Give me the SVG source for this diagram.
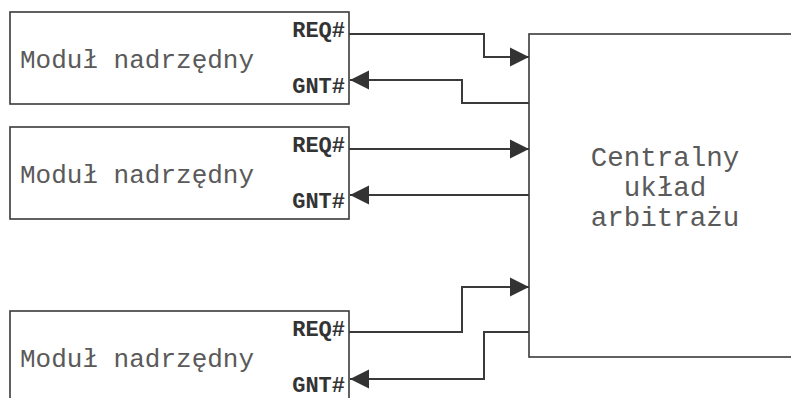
<svg xmlns="http://www.w3.org/2000/svg" width="791" height="398" viewBox="0 0 791 398">
<style>
.box{fill:#fff;stroke:#3a3a3a;stroke-width:1.6}
.lbl{font-family:"Liberation Mono","Courier New",monospace;font-size:26px;fill:#5a5a5a}
.big{font-size:27.5px;text-anchor:middle}
.pin{font-family:"Liberation Mono","Courier New",monospace;font-size:22px;font-weight:bold;fill:#333;text-anchor:end}
.wire{fill:none;stroke:#3a3a3a;stroke-width:2}
</style>
<defs>
<marker id="ah" markerUnits="userSpaceOnUse" markerWidth="20" markerHeight="20" viewBox="0 0 20 20" refX="19" refY="10" orient="auto">
<path d="M0,0.5 L19,10 L0,19.5 Z" fill="#333"/>
</marker>
</defs>
<g id="arbiter">
<rect class="box" x="529" y="34" width="280" height="323"/>
<text class="lbl big" x="665" y="166">Centralny</text>
<text class="lbl big" x="665" y="196">układ</text>
<text class="lbl big" x="665" y="226">arbitrażu</text>
</g>
<g id="master1">
<rect class="box" x="10" y="12" width="339" height="92"/>
<text class="lbl" x="20" y="68">Moduł nadrzędny</text>
<text class="pin" x="345" y="37">REQ#</text>
<text class="pin" x="345" y="93">GNT#</text>
</g>
<g id="master2">
<rect class="box" x="10" y="127" width="339" height="92"/>
<text class="lbl" x="20" y="183">Moduł nadrzędny</text>
<text class="pin" x="345" y="152">REQ#</text>
<text class="pin" x="345" y="208">GNT#</text>
</g>
<g id="master3">
<rect class="box" x="10" y="311" width="339" height="100"/>
<text class="lbl" x="20" y="367">Moduł nadrzędny</text>
<text class="pin" x="345" y="336">REQ#</text>
<text class="pin" x="345" y="392">GNT#</text>
</g>
<g id="connectors">
<path class="wire" d="M349,34 H484 V57 H529" marker-end="url(#ah)"/>
<path class="wire" d="M529,103 H462 V80 H350" marker-end="url(#ah)"/>
<path class="wire" d="M349,149 H529" marker-end="url(#ah)"/>
<path class="wire" d="M529,195 H350" marker-end="url(#ah)"/>
<path class="wire" d="M349,332 H462 V287 H529" marker-end="url(#ah)"/>
<path class="wire" d="M529,332 H484 V379 H350" marker-end="url(#ah)"/>
</g>
</svg>
